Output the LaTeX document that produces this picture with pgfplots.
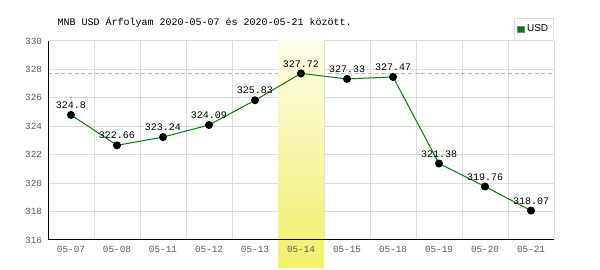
\documentclass[border=0pt]{standalone}
\usepackage{fontspec}
\setmainfont{Liberation Mono}
\newfontfamily\sansf{Liberation Sans}
\usepackage{pgfplots}
\pgfplotsset{compat=1.18}
\definecolor{gridc}{RGB}{221,221,221}
\definecolor{linec}{RGB}{0,128,0}
\definecolor{tickc}{RGB}{90,90,90}
\definecolor{hltop}{RGB}{253,253,232}
\definecolor{hlbot}{RGB}{240,240,105}
\definecolor{dashc}{RGB}{165,195,165}
\pgfplotsset{layers/mylayers/.define layer set={axis background,axis grid,pre main,main,axis ticks,axis lines,axis tick labels,axis descriptions,axis foreground}{
  grid style={/pgfplots/on layer=axis grid},
  minor grid style={/pgfplots/on layer=axis grid},
  tick style={/pgfplots/on layer=axis ticks},
  axis line style={/pgfplots/on layer=axis lines},
  tick label style={/pgfplots/on layer=axis tick labels},
  legend style={/pgfplots/on layer=axis foreground},
}}
\begin{document}
\begin{tikzpicture}
\begin{axis}[
  set layers=mylayers,
  at={(0,0)}, anchor=south west,
  scale only axis, width=379.5pt, height=149.25pt,
  xmin=-0.5, xmax=10.5, ymin=316, ymax=330,
  ytick={316,318,...,330},
  xtick={0,...,10},
  xticklabels={05-07,05-08,05-11,05-12,05-13,05-14,05-15,05-18,05-19,05-20,05-21},
  minor xtick={-0.5,0.5,...,10.5},
  xmajorgrids=false, xminorgrids=true, ymajorgrids=true,
  grid style={gridc, line width=0.75pt},
  minor grid style={gridc, line width=0.75pt},
  axis x line*=bottom, axis y line*=left,
  axis line style={black, line width=0.75pt, -},
  major tick length=0pt, minor tick length=0pt,
  tick label style={font=\fontsize{7}{8}\selectfont, text=tickc},
  /pgf/number format/assume math mode=true,
  yticklabel style={xshift=-1pt},
  xticklabel style={yshift=-1pt},
  clip=false,
  legend style={at={(rel axis cs:1,1)}, anchor=south east, draw=gridc, line width=0.75pt,
    font=\sansf\fontsize{7.5}{9}\selectfont, inner xsep=2pt, inner ysep=3pt},
  legend cell align=left,
  legend image code/.code={\fill[linec, draw=gray, line width=0.4pt] (0pt,-2.5pt) rectangle (5pt,2.5pt);},
]
\addplot[on layer=pre main, dashc, line width=0.75pt, dash pattern=on 3pt off 2pt, forget plot] coordinates {(-0.5,327.72) (10.5,327.72)};
\begin{pgfonlayer}{pre main}
\fill[top color=hltop, bottom color=hlbot] (axis cs:4.5,330) rectangle ([yshift=-21pt]axis cs:5.5,316);
\end{pgfonlayer}
\addplot[linec, line width=0.75pt, mark=*, mark size=2.6pt, mark options={black, fill=black},
  nodes near coords, point meta=explicit symbolic,
  nodes near coords style={font=\fontsize{7.5}{8}\selectfont, text=black, anchor=south, yshift=1pt}]
  table[meta=l] {
x y l
0 324.8 324.8
1 322.66 322.66
2 323.24 323.24
3 324.09 324.09
4 325.83 325.83
5 327.72 327.72
6 327.33 327.33
7 327.47 327.47
8 321.38 321.38
9 319.76 319.76
10 318.07 318.07
};
\addlegendentry{USD}
\node[anchor=west, font=\fontsize{7.5}{8}\selectfont] at ([xshift=3.75pt, yshift=14.25pt]rel axis cs:0,1) {MNB USD Árfolyam 2020-05-07 és 2020-05-21 között.};
\end{axis}
\pgfresetboundingbox
\path[use as bounding box] (-36pt,-22.5pt) rectangle (414pt,180pt);
\end{tikzpicture}
\end{document}
